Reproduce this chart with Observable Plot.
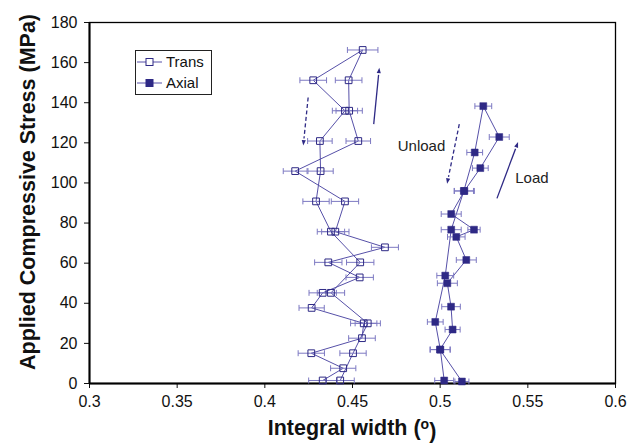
<!DOCTYPE html>
<html>
<head>
<meta charset="utf-8">
<script src="https://cdn.jsdelivr.net/npm/d3@7"></script>
<script src="https://cdn.jsdelivr.net/npm/@observablehq/plot@0.6"></script>
<style>
  html, body { margin: 0; padding: 0; background: #fff; }
  #chart { width: 630px; height: 446px; }
</style>
</head>
<body>
<div id="chart"></div>
<script>
// ---- Data ----
const seriesNames = ["Trans", "Axial"];

// Trans: loading sequence then unloading sequence (stress MPa, integral width deg, error half-width)
const transLoadStress   = [1.5, 7.6, 15.1, 22.6, 30.0, 37.7, 45.2, 52.9, 60.4, 67.9, 75.7, 90.8, 105.9, 120.9, 136.0, 151.2, 166.3];
const transLoadWidth    = [0.4330, 0.4447, 0.4265, 0.4554, 0.4564, 0.4267, 0.4330, 0.4541, 0.4362, 0.4685, 0.4402, 0.4457, 0.4173, 0.4533, 0.4481, 0.4478, 0.4558];
const transLoadErr      = [0.0080, 0.0072, 0.0075, 0.0076, 0.0075, 0.0072, 0.0078, 0.0078, 0.0078, 0.0077, 0.0078, 0.0078, 0.0068, 0.0070, 0.0075, 0.0076, 0.0087];
const transUnloadStress = [151.2, 136.0, 120.9, 105.9, 90.8, 75.7, 60.4, 45.2, 30.0, 15.1, 1.5];
const transUnloadWidth  = [0.4276, 0.4457, 0.4314, 0.4318, 0.4292, 0.4377, 0.4544, 0.4377, 0.4587, 0.4503, 0.4430];
const transUnloadErr    = [0.0076, 0.0072, 0.0070, 0.0072, 0.0075, 0.0078, 0.0078, 0.0078, 0.0072, 0.0075, 0.0080];

// Axial
const axialLoadStress   = [1.0, 16.9, 26.9, 38.3, 50.0, 61.6, 73.1, 76.7, 84.5, 96.0, 107.4, 122.9, 138.3];
const axialLoadWidth    = [0.5124, 0.4999, 0.5071, 0.5062, 0.5041, 0.5149, 0.5092, 0.5193, 0.5063, 0.5138, 0.5229, 0.5337, 0.5246];
const axialLoadErr      = [0.0040, 0.0057, 0.0043, 0.0053, 0.0057, 0.0057, 0.0050, 0.0035, 0.0057, 0.0057, 0.0045, 0.0057, 0.0048];
const axialUnloadStress = [115.2, 96.0, 76.7, 53.8, 30.7, 16.9, 1.5];
const axialUnloadWidth  = [0.5197, 0.5135, 0.5063, 0.5029, 0.4972, 0.5001, 0.5023];
const axialUnloadErr    = [0.0045, 0.0055, 0.0057, 0.0048, 0.0045, 0.0057, 0.0054];

// Axis ticks
const xTicks = [0.3, 0.35, 0.4, 0.45, 0.5, 0.55, 0.6];
const xTickLabels = ["0.3", "0.35", "0.4", "0.45", "0.5", "0.55", "0.6"];
const yTicks = [0, 20, 40, 60, 80, 100, 120, 140, 160, 180];

// Annotation arrows (data units) and labels
const arrowX1 = [0.4247, 0.4621, 0.5109, 0.5324];
const arrowY1 = [142.6, 129.3, 129.3, 92.3];
const arrowX2 = [0.4221, 0.4651, 0.5043, 0.5438];
const arrowY2 = [120.2, 155.9, 101.1, 118.9];
const arrowDashed = [true, false, true, false];
const noteText = ["Unload", "Load"];
const noteX = [0.4758, 0.5428];
const noteY = [118.2, 102.2];

const xTitle = "Integral width (";
const xTitleSup = "o";
const yTitle = "Applied Compressive Stress (MPa)";

// ---- Build tables ----
function build(name, stress, width, err) {
  return stress.map((s, i) => ({series: name, y: s, x: width[i], e: err[i]}));
}
const trans = build("Trans", transLoadStress, transLoadWidth, transLoadErr)
  .concat(build("Trans", transUnloadStress, transUnloadWidth, transUnloadErr));
const axial = build("Axial", axialLoadStress, axialLoadWidth, axialLoadErr)
  .concat(build("Axial", axialUnloadStress, axialUnloadWidth, axialUnloadErr));
const all = trans.concat(axial);

const W = 630, H = 446, ML = 89, MR = 15, MT = 22, MB = 63;
const pxPerX = (W - ML - MR) / 0.3, pxPerY = (H - MT - MB) / 180;
const arrows = arrowX1.map((x1, i) => {
  const x2 = arrowX2[i], y1 = arrowY1[i], y2 = arrowY2[i];
  const dxp = (x2 - x1) * pxPerX, dyp = -(y2 - y1) * pxPerY;
  const len = Math.hypot(dxp, dyp);
  // shorten the shaft slightly so the filled head sits at the tip
  const k = Math.max(0, (len - 4) / len);
  return {x1, y1, x2, y2, xs: x1 + (x2 - x1) * k, ys: y1 + (y2 - y1) * k,
          angle: Math.atan2(dxp, -dyp) * 180 / Math.PI, dashed: arrowDashed[i]};
});
const notes = noteText.map((t, i) => ({text: t, x: noteX[i], y: noteY[i]}));

const markColor = "#2E2985";
const lineColor = "#5650A8";
const errColor = "#7D79C2";
const xLabelMap = new Map(xTicks.map((t, i) => [t.toFixed(2), xTickLabels[i]]));

const capSymbol = {
  draw(ctx, size) {
    const r = Math.sqrt(size / Math.PI);
    ctx.moveTo(0, -r);
    ctx.lineTo(0, r);
  }
};
const headSymbol = {
  draw(ctx, size) {
    const r = Math.sqrt(size / Math.PI);
    ctx.moveTo(0, -r * 1.2);
    ctx.lineTo(r * 0.8, r * 0.9);
    ctx.lineTo(-r * 0.8, r * 0.9);
    ctx.closePath();
  }
};

const errBars = (data) => [
  Plot.link(data, {x1: d => d.x - d.e, x2: d => d.x + d.e, y1: "y", y2: "y", stroke: errColor, strokeWidth: 1}),
  Plot.dot(data, {x: d => d.x - d.e, y: "y", symbol: capSymbol, r: 3, stroke: errColor, strokeWidth: 1, fill: "none"}),
  Plot.dot(data, {x: d => d.x + d.e, y: "y", symbol: capSymbol, r: 3, stroke: errColor, strokeWidth: 1, fill: "none"})
];

const plot = Plot.plot({
  width: W,
  height: H,
  marginLeft: ML,
  marginRight: MR,
  marginTop: MT,
  marginBottom: MB,
  style: {fontFamily: "'Liberation Sans', Arial, sans-serif", fontSize: "16px", background: "white", color: "#111"},
  x: {domain: [0.3, 0.6], ticks: xTicks, tickFormat: d => xLabelMap.get((+d).toFixed(2)), tickSize: 5, tickPadding: 7, label: null},
  y: {domain: [0, 180], ticks: yTicks, tickSize: 5, tickPadding: 7, label: null},
  marks: [
    Plot.frame({stroke: "black", strokeWidth: 1.3}),
    Plot.ruleX([0.3], {stroke: "black", strokeWidth: 2}),
    Plot.ruleY([0], {stroke: "black", strokeWidth: 2}),
    Plot.line(trans, {x: "x", y: "y", stroke: lineColor, strokeWidth: 1}),
    Plot.line(axial, {x: "x", y: "y", stroke: lineColor, strokeWidth: 1}),
    ...errBars(all),
    Plot.dot(trans, {x: "x", y: "y", symbol: "square", r: 3.8, stroke: markColor, strokeWidth: 1, fill: "none"}),
    Plot.dot(axial, {x: "x", y: "y", symbol: "square", r: 3.9, fill: markColor, stroke: markColor, strokeWidth: 0.5}),
    Plot.link(arrows.filter(d => d.dashed), {x1: "x1", y1: "y1", x2: "xs", y2: "ys", stroke: markColor, strokeWidth: 1.3, strokeDasharray: "4,2.5"}),
    Plot.link(arrows.filter(d => !d.dashed), {x1: "x1", y1: "y1", x2: "xs", y2: "ys", stroke: markColor, strokeWidth: 1.3}),
    Plot.dot(arrows, {x: "x2", y: "y2", symbol: headSymbol, r: 2.6, rotate: "angle", fill: markColor, stroke: "none"}),
    Plot.text(notes, {x: "x", y: "y", text: "text", textAnchor: "start", fontSize: 15, fill: "#222"})
  ]
});

document.getElementById("chart").appendChild(plot);

// ---- Titles and legend ----
const svg = d3.select(plot);
svg.append("text")
  .attr("transform", "translate(27,192) rotate(-90)")
  .attr("text-anchor", "middle")
  .attr("dy", "0.35em")
  .style("font-family", "'Liberation Sans', Arial, sans-serif")
  .style("font-weight", "bold")
  .style("font-size", "21.5px")
  .attr("fill", "#111")
  .text(yTitle);

const xt = svg.append("text")
  .attr("x", 352)
  .attr("y", 435)
  .attr("text-anchor", "middle")
  .style("font-family", "'Liberation Sans', Arial, sans-serif")
  .style("font-weight", "bold")
  .style("font-size", "21.5px")
  .attr("fill", "#111");
xt.append("tspan").text(xTitle);
xt.append("tspan").attr("dy", "-0.45em").style("font-size", "14px").text(xTitleSup);
xt.append("tspan").attr("dy", "0.45em").text(")");

const lg = svg.append("g").attr("text-anchor", "start");
lg.append("rect").attr("x", 135.5).attr("y", 50.5).attr("width", 76).attr("height", 44)
  .attr("fill", "white").attr("stroke", "#222").attr("stroke-width", 1);
seriesNames.forEach((name, i) => {
  const yy = 62 + i * 21;
  lg.append("line").attr("x1", 137).attr("x2", 162).attr("y1", yy).attr("y2", yy)
    .attr("stroke", lineColor).attr("stroke-width", 1);
  lg.append("rect").attr("x", 146).attr("y", yy - 3.5).attr("width", 7).attr("height", 7)
    .attr("fill", i === 0 ? "white" : markColor).attr("stroke", markColor).attr("stroke-width", 1);
  lg.append("text").attr("x", 166).attr("y", yy).attr("dy", "0.35em")
    .attr("text-anchor", "start")
    .style("font-family", "'Liberation Sans', Arial, sans-serif").style("font-size", "15px")
    .attr("fill", "#111").text(name);
});
</script>
</body>
</html>
